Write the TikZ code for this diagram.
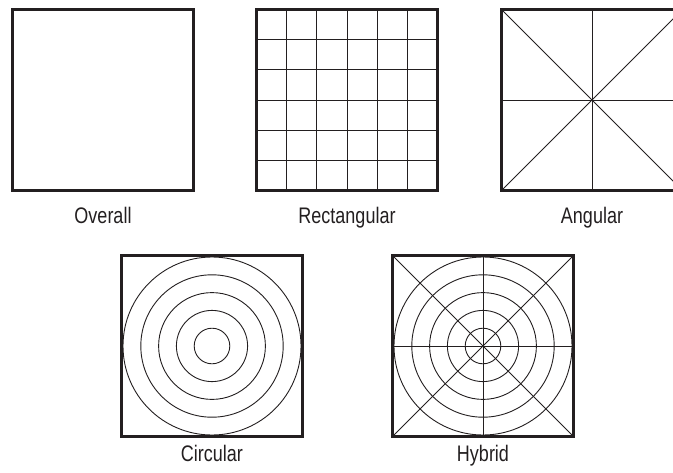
\documentclass[tikz,border=0pt]{standalone}
\usepackage{fontspec}
\setmainfont{Liberation Sans}[FakeStretch=0.8]
\definecolor{ink}{HTML}{231F20}
\begin{document}
\begin{tikzpicture}[x=1pt,y=-1pt,
  frame/.style={draw=ink,line width=3pt},
  thin/.style={draw=ink,line width=0.9pt},
  lbl/.style={anchor=base,inner sep=0pt,text=ink,font=\fontsize{22.5}{25}\selectfont}]
\useasboundingbox (0,0) rectangle (673,472);
\clip (0,0) rectangle (673,472);
% Overall
\draw[frame] (12.5,9.5) rectangle (193.5,190.5);
\node[lbl] (overall) at (103,223.5) {Overall};
% Rectangular
\foreach \k in {1,...,5}{
  \draw[thin] ({256.5+\k*181/6},9.5) -- ({256.5+\k*181/6},190.5);
  \draw[thin] (256.5,{9.5+\k*181/6}) -- (437.5,{9.5+\k*181/6});
}
\draw[frame] (256.5,9.5) rectangle (437.5,190.5);
\node[lbl] (rect) at (347,223.5) {Rectangular};
% Angular
\begin{scope}[shift={(592,100)}]
  \draw[thin] (-90.5,-90.5) -- (90.5,90.5);
  \draw[thin] (-90.5,90.5) -- (90.5,-90.5);
  \draw[thin] (-90.5,0) -- (90.5,0);
  \draw[thin] (0,-90.5) -- (0,90.5);
  \draw[frame] (-90.5,-90.5) rectangle (90.5,90.5);
\end{scope}
\node[lbl] (ang) at (592,223.5) {Angular};
% Circular
\begin{scope}[shift={(212,346)}]
  \foreach \k in {1,...,5}{\draw[thin] (0,0) circle ({17.8*\k});}
  \draw[frame] (-90.5,-90.5) rectangle (90.5,90.5);
\end{scope}
\node[lbl] (circ) at (212,461) {Circular};
% Hybrid
\begin{scope}[shift={(483,346)}]
  \foreach \k in {1,...,5}{\draw[thin] (0,0) circle ({17.8*\k});}
  \draw[thin] (-90.5,-90.5) -- (90.5,90.5);
  \draw[thin] (-90.5,90.5) -- (90.5,-90.5);
  \draw[thin] (-90.5,0) -- (90.5,0);
  \draw[thin] (0,-90.5) -- (0,90.5);
  \draw[frame] (-90.5,-90.5) rectangle (90.5,90.5);
\end{scope}
\node[lbl] (hyb) at (483,461) {Hybrid};
\end{tikzpicture}
\end{document}
